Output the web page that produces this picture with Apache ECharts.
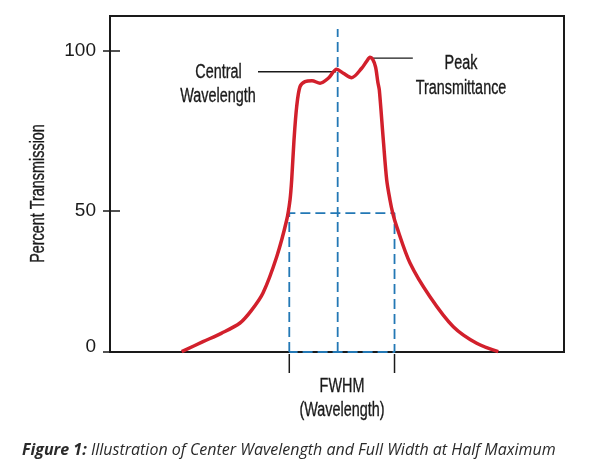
<!DOCTYPE html>
<html>
<head>
<meta charset="utf-8">
<script src="https://cdn.jsdelivr.net/npm/echarts@6/dist/echarts.min.js"></script>
<style>
html,body{margin:0;padding:0;background:#fff;}
#chart{width:615px;height:468px;}
</style>
</head>
<body>
<div id="chart"></div>
<script>
// Wavelength (arbitrary units 0-100 across the plot) and percent transmission
var curveX = [15.79, 20.48, 24.50, 28.63, 31.20, 33.70, 36.72, 38.92, 39.65, 40.02, 40.53, 41.12, 41.85, 42.95, 44.49, 46.26, 48.08, 49.93, 51.39, 53.24, 55.44, 56.50, 57.27, 57.90, 58.50, 59.00, 59.32, 60.20, 60.95, 61.67, 62.27, 63.15, 66.08, 70.48, 75.62, 80.77, 85.53];
var curveY = [0.10, 3.42, 6.20, 9.62, 13.90, 19.58, 31.63, 43.81, 50.45, 57.09, 70.36, 81.41, 88.05, 89.71, 90.04, 89.18, 90.84, 93.83, 92.50, 91.04, 94.16, 96.40, 97.81, 97.00, 94.50, 89.50, 86.96, 70.36, 57.09, 50.45, 46.13, 41.59, 29.54, 18.35, 8.40, 2.89, 0.10];

var centralWavelength = 50.15;
var fwhmLeft = 39.49;
var fwhmRight = 62.67;
var halfLevel = 46.1;
var centralTop = 107.2;

var centralLeaderX = [32.6, 49.8];
var centralLeaderY = 93.0;
var peakLeaderX = [57.6, 66.7];
var peakLeaderY = 97.5;

var yTickValues = [0, 47, 100];
var yTickLabels = ['0', '50', '100'];

var yAxisTitle = 'Percent Transmission';
var annCentral = ['Central', 'Wavelength'];
var annPeak = ['Peak', 'Transmittance'];
var fwhmText = ['FWHM', '(Wavelength)'];
var captionBold = 'Figure 1:';
var captionRest = ' Illustration of Center Wavelength and Full Width at Half Maximum';

var labelFamily = '"Liberation Sans", Arial, sans-serif';
var red = '#d2202c';
var blue = '#2378b5';
var ink = '#1a1a1a';

var curveData = curveX.map(function (x, i) { return [x, curveY[i]]; });
var fwhmBox = [[fwhmLeft, 0], [fwhmLeft, halfLevel], [fwhmRight, halfLevel], [fwhmRight, 0], [fwhmLeft, 0]];
var centralLine = [[centralWavelength, 0], [centralWavelength, centralTop]];
var centralLeader = centralLeaderX.map(function (x) { return [x, centralLeaderY]; });
var peakLeader = peakLeaderX.map(function (x) { return [x, peakLeaderY]; });

var chart = echarts.init(document.getElementById('chart'), null, {renderer: 'canvas'});

var yCommon = {
  type: 'value', min: 0, max: 111.5, position: 'left',
  splitLine: {show: false}
};

var option = {
  animation: false,
  backgroundColor: '#ffffff',
  grid: {left: 110, right: 51, top: 16, bottom: 116, show: true, borderColor: ink, borderWidth: 2, backgroundColor: 'transparent'},
  xAxis: {
    type: 'value', min: 0, max: 100,
    axisLine: {show: true, onZero: false, lineStyle: {color: ink, width: 2}},
    axisTick: {show: false}, axisLabel: {show: false}, splitLine: {show: false}
  },
  yAxis: [
    Object.assign({}, yCommon, {
      axisLine: {show: true, lineStyle: {color: ink, width: 2}},
      axisTick: {show: true, length: 7, customValues: yTickValues, lineStyle: {color: ink, width: 1.5}},
      axisLabel: {
        show: true, margin: 14, customValues: yTickValues,
        fontFamily: labelFamily, fontSize: 19, color: ink,
        formatter: function (v) {
          var i = yTickValues.indexOf(v);
          if (i < 0) return '';
          return v === 0 ? '{z|' + yTickLabels[i] + '}' : yTickLabels[i];
        },
        rich: {z: {fontFamily: labelFamily, fontSize: 19, color: ink, padding: [0, 0, 10, 0]}}
      }
    }),
    Object.assign({}, yCommon, {
      axisLine: {show: false},
      axisTick: {show: true, inside: true, length: 10, customValues: yTickValues, lineStyle: {color: ink, width: 1.5}},
      axisLabel: {show: false}
    })
  ],
  series: [
    {type: 'line', data: fwhmBox, showSymbol: false, silent: true, z: 2,
      lineStyle: {color: blue, width: 1.8, type: [10, 5]}},
    {type: 'line', data: centralLine, showSymbol: false, silent: true, z: 2,
      lineStyle: {color: blue, width: 1.8, type: [10, 5]}},
    {type: 'line', data: centralLeader, showSymbol: false, silent: true, z: 2,
      lineStyle: {color: ink, width: 1.3}},
    {type: 'line', data: peakLeader, showSymbol: false, silent: true, z: 2,
      lineStyle: {color: ink, width: 1.3}},
    {type: 'line', data: curveData, showSymbol: false, smooth: 0.3, silent: true, z: 5,
      lineStyle: {color: red, width: 3.5}}
  ]
};
chart.setOption(option);

var pL = chart.convertToPixel({xAxisIndex: 0, yAxisIndex: 0}, [fwhmLeft, 0]);
var pR = chart.convertToPixel({xAxisIndex: 0, yAxisIndex: 0}, [fwhmRight, 0]);

var narrowText = function (t, x, y, size, rot) {
  return {
    type: 'text', x: x, y: y, rotation: rot || 0, scaleX: 0.72, scaleY: 1,
    style: {text: t, fontFamily: labelFamily, fontSize: size, fill: ink, textAlign: 'center', textVerticalAlign: 'middle',
      stroke: ink, lineWidth: 0.35}
  };
};

chart.setOption({
  graphic: [
    {type: 'line', shape: {x1: pL[0], y1: pL[1] + 2, x2: pL[0], y2: pL[1] + 21}, style: {stroke: ink, lineWidth: 1.5}},
    {type: 'line', shape: {x1: pR[0], y1: pR[1] + 2, x2: pR[0], y2: pR[1] + 21}, style: {stroke: ink, lineWidth: 1.5}},
    narrowText(fwhmText[0], 342, 386.5, 20),
    narrowText(fwhmText[1], 342, 410, 20),
    narrowText(annCentral[0], 218.5, 72.5, 20),
    narrowText(annCentral[1], 218, 96.5, 20),
    narrowText(annPeak[0], 461, 63.5, 20),
    narrowText(annPeak[1], 461, 88, 20),
    narrowText(yAxisTitle, 38, 193.5, 20, Math.PI / 2),
    {type: 'text', x: 22, y: 450, style: {
      text: '{b|' + captionBold + '}{r|' + captionRest + '}',
      textVerticalAlign: 'middle', textAlign: 'left',
      rich: {
        b: {fontFamily: '"Open Sans", Lato, sans-serif', fontSize: 16, fontStyle: 'italic', fontWeight: 'bold', fill: '#2a2a2a', color: '#2a2a2a'},
        r: {fontFamily: '"Open Sans", Lato, sans-serif', fontSize: 16, fontStyle: 'italic', fill: '#2a2a2a', color: '#2a2a2a'}
      }
    }}
  ]
});
</script>
</body>
</html>
